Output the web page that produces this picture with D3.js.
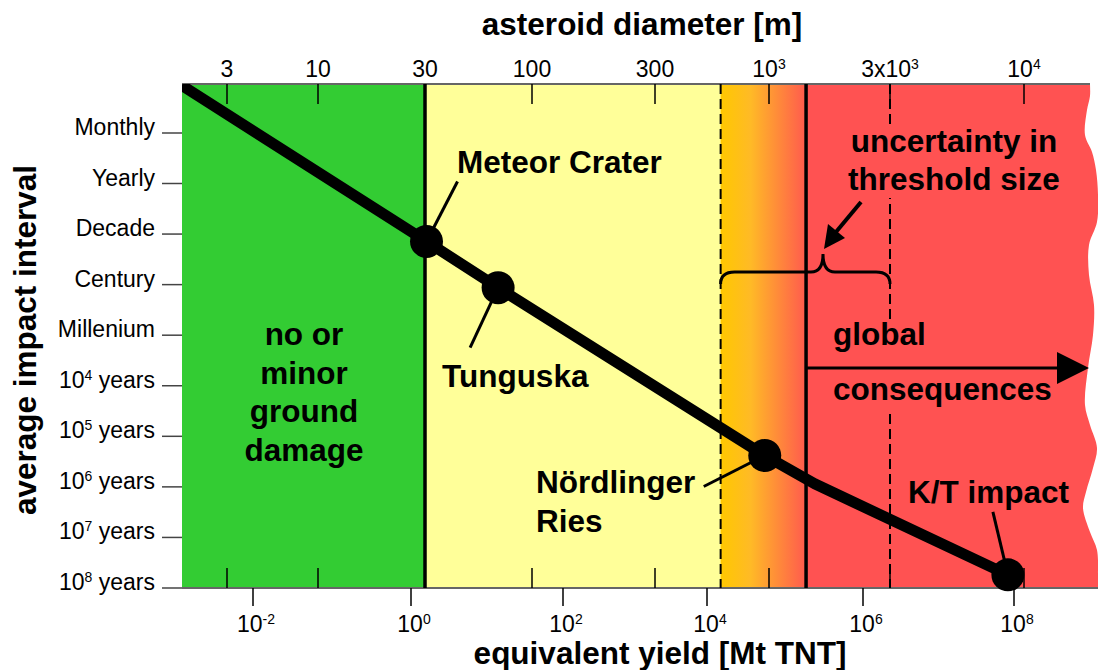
<!DOCTYPE html>
<html>
<head>
<meta charset="utf-8">
<title>impact hazard</title>
<script src="https://d3js.org/d3.v7.min.js"></script>
<style>
  body {margin:0; background:#fff;}
  text {font-family:"Liberation Sans", Arial, sans-serif; fill:#000;}
  .big {font-size:31.5px; font-weight:bold;}
  .tick {font-size:23px;}
</style>
</head>
<body>
<script>
// --- data ---
const intervalLabels = ["Monthly", "Yearly", "Decade", "Century", "Millenium",
  "10^4 years", "10^5 years", "10^6 years", "10^7 years", "10^8 years"];
const intervalValues = [1/12, 1, 10, 100, 1e3, 1e4, 1e5, 1e6, 1e7, 1e8];
const yieldTicks = [1e-2, 1, 1e2, 1e4, 1e6, 1e8];
const yieldLabels = ["10^-2", "10^0", "10^2", "10^4", "10^6", "10^8"];
const diameterTicks = [3, 10, 30, 100, 300, 1000, 3000, 10000];
const diameterLabels = ["3", "10", "30", "100", "300", "10^3", "3x10^3", "10^4"];

// impact frequency curve: yield [Mt TNT] vs average interval [years]
const curveYield = [1.25e-3, 1.6, 14, 5.5e4, 2.4e5, 8.3e7];
const curveInterval = [0.008, 14, 115, 2.4e5, 8.7e5, 5.5e7];

const events = ["Meteor Crater", "Tunguska", "Nördlinger Ries", "K/T impact"];
const eventYield = [1.6, 14, 5.5e4, 8.3e7];
const eventInterval = [14, 115, 2.4e5, 5.5e7];

// zone edges as asteroid diameter [m]
const zoneEdges = [30, 600, 1400, 3000];

// --- layout ---
const W = 1098, H = 670;
const pLeft = 182, pTop = 84, pBottom = 588;

const svg = d3.select("body").append("svg").attr("width", W).attr("height", H);

// hand-drawn axes -> piecewise log scales
const x = d3.scaleLog().domain(yieldTicks).range([253, 411, 563, 707, 863, 1014]);
const xd = d3.scaleLog().domain(diameterTicks).range([227, 318, 425, 532, 655, 769, 890, 1024]);
const y = d3.scaleLog().domain([1/12, 1, 1e8]).range([133, 183.5, 588]);

// wavy right border
const wave = [[1090,84],[1090,96],[1087,110],[1085,135],[1092,152],[1096,170],[1098,195],[1097,222],
  [1089,245],[1089,275],[1094,305],[1093,335],[1088,368],[1085,405],[1090,425],[1097,448],[1093,468],
  [1086,492],[1083,508],[1090,532],[1097,550],[1098,575],[1098,588]];
const regionPath = "M" + pLeft + "," + pTop + " L" +
  d3.line().curve(d3.curveCatmullRom)(wave).slice(1) + " L" + pLeft + "," + pBottom + "Z";

const defs = svg.append("defs");
defs.append("clipPath").attr("id", "region").append("path").attr("d", regionPath);
defs.append("clipPath").attr("id", "plot").append("rect")
  .attr("x", pLeft).attr("y", pTop).attr("width", W - pLeft).attr("height", pBottom - pTop);
const grad = defs.append("linearGradient").attr("id", "grad")
  .attr("gradientUnits", "userSpaceOnUse")
  .attr("x1", xd(zoneEdges[1])).attr("x2", xd(zoneEdges[2])).attr("y1", 0).attr("y2", 0);
grad.append("stop").attr("offset", 0).attr("stop-color", "#ffc800");
grad.append("stop").attr("offset", 0.35).attr("stop-color", "#ffba26");
grad.append("stop").attr("offset", 1).attr("stop-color", "#ff5a4e");

// zones
const zones = svg.append("g").attr("clip-path", "url(#region)");
const zoneX = [pLeft, xd(zoneEdges[0]), xd(zoneEdges[1]), xd(zoneEdges[2]), W];
const zoneFill = ["#33cc33", "#ffff99", "url(#grad)", "#ff5252"];
zoneFill.forEach((f, i) => {
  zones.append("rect").attr("x", zoneX[i]).attr("y", pTop)
    .attr("width", zoneX[i + 1] - zoneX[i] + (i < 3 ? 0.5 : 0)).attr("height", pBottom - pTop)
    .attr("fill", f);
});

// frame
svg.append("line").attr("x1", pLeft).attr("x2", 1090).attr("y1", pTop).attr("y2", pTop)
  .attr("stroke", "#666").attr("stroke-width", 2);
svg.append("line").attr("x1", pLeft).attr("x2", W).attr("y1", pBottom).attr("y2", pBottom)
  .attr("stroke", "#666").attr("stroke-width", 2);

// superscript helper
function label(sel, s, sup) {
  const m = s.match(/^(.*?)\^(-?\d+)(.*)$/);
  if (!m) { sel.text(s); return; }
  sel.append("tspan").text(m[1]);
  sel.append("tspan").attr("font-size", sup).attr("dy", -8).text(m[2]);
  if (m[3]) sel.append("tspan").attr("dy", 8).text(m[3]);
}

// diameter ticks (top + mirrored at bottom, inside)
diameterTicks.forEach((d, i) => {
  if (d !== zoneEdges[0]) {
    svg.append("line").attr("x1", xd(d)).attr("x2", xd(d)).attr("y1", pTop).attr("y2", pTop + 20)
      .attr("stroke", "#000").attr("stroke-width", 1.5);
    svg.append("line").attr("x1", xd(d)).attr("x2", xd(d)).attr("y1", pBottom - 20).attr("y2", pBottom)
      .attr("stroke", "#000").attr("stroke-width", 1.5);
  }
  svg.append("text").attr("class", "tick").attr("x", xd(d)).attr("y", 77)
    .attr("text-anchor", "middle").call(label, diameterLabels[i], 14);
});

// yield ticks
yieldTicks.forEach((v, i) => {
  svg.append("line").attr("x1", x(v)).attr("x2", x(v)).attr("y1", pBottom).attr("y2", pBottom + 18)
    .attr("stroke", "#000").attr("stroke-width", 1.5);
  svg.append("text").attr("class", "tick").attr("x", x(v) + 3).attr("y", 632)
    .attr("text-anchor", "middle").call(label, yieldLabels[i], 14);
});

// interval ticks
intervalValues.forEach((v, i) => {
  svg.append("line").attr("x1", 162).attr("x2", pLeft).attr("y1", y(v)).attr("y2", y(v))
    .attr("stroke", "#444").attr("stroke-width", 1.5);
  svg.append("text").attr("class", "tick").attr("x", 155).attr("y", y(v) + 2)
    .attr("text-anchor", "end").call(label, intervalLabels[i], 14);
});

// zone boundary lines
zoneEdges.forEach((d, i) => {
  const solid = i === 0 || i === 2;
  svg.append("line").attr("x1", xd(d)).attr("x2", xd(d)).attr("y1", pTop).attr("y2", pBottom)
    .attr("stroke", "#000").attr("stroke-width", solid ? 3.5 : 2)
    .attr("stroke-dasharray", solid ? null : "10,5");
});

// text masks in red zone
svg.append("rect").attr("x", 845).attr("y", 128).attr("width", 222).attr("height", 70).attr("fill", "#ff5252");
svg.append("rect").attr("x", 828).attr("y", 320).attr("width", 235).attr("height", 92).attr("fill", "#ff5252");

// impact curve
const pts = curveYield.map((v, i) => [x(v), y(curveInterval[i])]);
svg.append("path").attr("clip-path", "url(#plot)")
  .attr("d", d3.line()(pts)).attr("fill", "none")
  .attr("stroke", "#000").attr("stroke-width", 11).attr("stroke-linejoin", "round");

// event pointers + dots
const pointerEnd = [[31, -60], [-28, 60], [-61, 31], [-15, -63]];
events.forEach((e, i) => {
  const cx = x(eventYield[i]), cy = y(eventInterval[i]);
  svg.append("line").attr("x1", cx).attr("y1", cy)
    .attr("x2", cx + pointerEnd[i][0]).attr("y2", cy + pointerEnd[i][1])
    .attr("stroke", "#000").attr("stroke-width", 3);
  svg.append("circle").attr("cx", cx).attr("cy", cy).attr("r", 16.5).attr("fill", "#000");
});

// event labels
svg.append("text").attr("class", "big").attr("x", 457).attr("y", 173).text(events[0]);
svg.append("text").attr("class", "big").attr("x", 442).attr("y", 387).text(events[1]);
svg.append("text").attr("class", "big").attr("x", 536).attr("y", 493).text("Nördlinger");
svg.append("text").attr("class", "big").attr("x", 536).attr("y", 532).text("Ries");
svg.append("text").attr("class", "big").attr("x", 908).attr("y", 503).text(events[3]);

// zone labels
const ground = svg.append("text").attr("class", "big").attr("text-anchor", "middle");
["no or", "minor", "ground", "damage"].forEach((s, i) => {
  ground.append("tspan").attr("x", 304).attr("y", 345 + i * 38.5).text(s);
});
const unc = svg.append("text").attr("class", "big").attr("text-anchor", "middle");
unc.append("tspan").attr("x", 954).attr("y", 152).text("uncertainty in");
unc.append("tspan").attr("x", 954).attr("y", 190).text("threshold size");
svg.append("text").attr("class", "big").attr("x", 833).attr("y", 345).text("global");
svg.append("text").attr("class", "big").attr("x", 833).attr("y", 400).text("consequences");

// global consequences arrow
svg.append("line").attr("x1", xd(zoneEdges[2])).attr("x2", 1062).attr("y1", 368).attr("y2", 368)
  .attr("stroke", "#000").attr("stroke-width", 3);
svg.append("path").attr("d", "M1057,352 L1089,368 L1057,384Z").attr("fill", "#000");

// brace for threshold uncertainty
const bx0 = xd(zoneEdges[1]), bx1 = xd(zoneEdges[3]), bm = 823, by = 272;
svg.append("path").attr("fill", "none").attr("stroke", "#000").attr("stroke-width", 3)
  .attr("d", `M${bx0},${by + 12} Q${bx0},${by} ${bx0 + 14},${by} L${bm - 12},${by}
    Q${bm},${by} ${bm},${by - 18} Q${bm},${by} ${bm + 12},${by} L${bx1 - 14},${by}
    Q${bx1},${by} ${bx1},${by + 12}`);
// arrow to brace
svg.append("line").attr("x1", 861).attr("y1", 202).attr("x2", 836).attr("y2", 232)
  .attr("stroke", "#000").attr("stroke-width", 4);
svg.append("path").attr("d", "M824,249 L828,224 L845,238Z").attr("fill", "#000");

// axis titles
svg.append("text").attr("class", "big").attr("x", 642).attr("y", 35)
  .attr("text-anchor", "middle").text("asteroid diameter [m]");
svg.append("text").attr("class", "big").attr("x", 660).attr("y", 664)
  .attr("text-anchor", "middle").text("equivalent yield [Mt TNT]");
svg.append("text").attr("class", "big").attr("text-anchor", "middle")
  .attr("transform", "translate(36,340) rotate(-90)").text("average impact interval");
</script>
</body>
</html>
